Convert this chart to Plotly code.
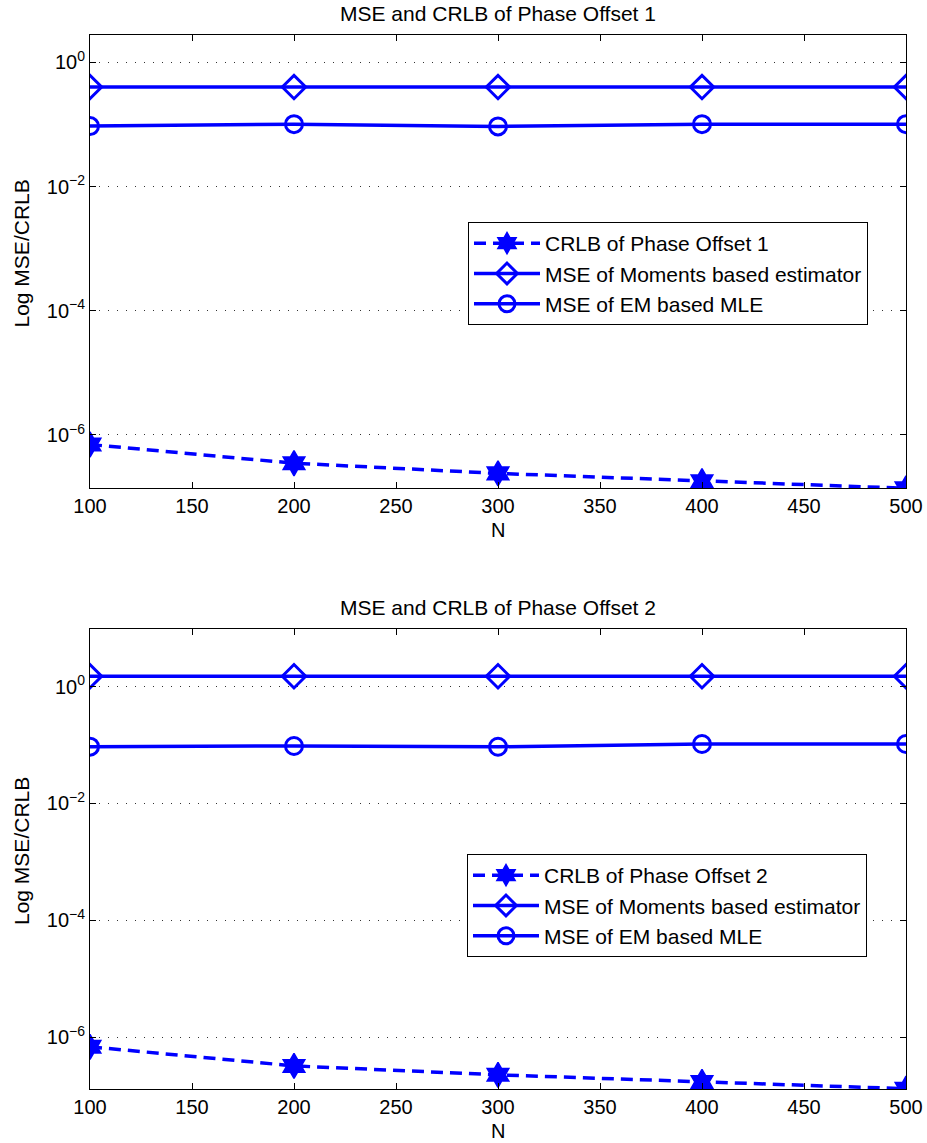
import plotly.graph_objects as go

N = [100, 200, 300, 400, 500]

# Panel 1 (Phase Offset 1)
crlb1 = [7.0e-7, 3.5e-7, 2.4e-7, 1.8e-7, 1.38e-7]
mom1 = [0.40, 0.40, 0.40, 0.40, 0.40]
em1 = [0.094, 0.101, 0.093, 0.101, 0.101]

# Panel 2 (Phase Offset 2)
crlb2 = [6.8e-7, 3.2e-7, 2.25e-7, 1.7e-7, 1.3e-7]
mom2 = [1.5, 1.5, 1.5, 1.5, 1.5]
em2 = [0.0935, 0.096, 0.093, 0.104, 0.104]

xticks = [100, 150, 200, 250, 300, 350, 400, 450, 500]
ytick_vals = [1e-6, 1e-4, 1e-2, 1e0]
ytick_text = ["10<sup>\u22126</sup>", "10<sup>\u22124</sup>", "10<sup>\u22122</sup>", "10<sup>0</sup>"]

titles = ["MSE and CRLB of Phase Offset 1", "MSE and CRLB of Phase Offset 2"]
names_crlb = ["CRLB of Phase Offset 1", "CRLB of Phase Offset 2"]
name_mom = "MSE of Moments based estimator"
name_em = "MSE of EM based MLE"

W, H = 927, 1143
FONT = "Liberation Sans, Arial, Helvetica, sans-serif"
BLUE = "#0000ff"

def px_y(y):
    return 1 - y / H

panels = [
    dict(top=35, bottom=488, yr=[-6.855, 0.44], crlb=crlb1, mom=mom1, em=em1,
         leg=dict(x=868, y=222), title_y=14, xlab_y=530),
    dict(top=629, bottom=1089, yr=[-6.89, 0.985], crlb=crlb2, mom=mom2, em=em2,
         leg=dict(x=867, y=854), title_y=607, xlab_y=1131),
]

fig = go.Figure()
x0, x1 = 90 / W, 906 / W
annotations = []
for i, p in enumerate(panels):
    xa = "x" if i == 0 else "x2"
    ya = "y" if i == 0 else "y2"
    leg = "legend" if i == 0 else "legend2"
    fig.add_trace(go.Scatter(x=N, y=p["crlb"], name=names_crlb[i], xaxis=xa, yaxis=ya,
                             mode="lines+markers", legend=leg,
                             line=dict(color=BLUE, width=3.5, dash="12px,7px"),
                             marker=dict(symbol="hexagram", size=19, color=BLUE,
                                         line=dict(color=BLUE, width=1.5))))
    fig.add_trace(go.Scatter(x=N, y=p["mom"], name=name_mom, xaxis=xa, yaxis=ya,
                             mode="lines+markers", legend=leg,
                             line=dict(color=BLUE, width=3.5),
                             marker=dict(symbol="diamond-open", size=18, color=BLUE,
                                         line=dict(color=BLUE, width=3))))
    fig.add_trace(go.Scatter(x=N, y=p["em"], name=name_em, xaxis=xa, yaxis=ya,
                             mode="lines+markers", legend=leg,
                             line=dict(color=BLUE, width=3.5),
                             marker=dict(symbol="circle-open", size=17, color=BLUE,
                                         line=dict(color=BLUE, width=3))))
    dom_y = [px_y(p["bottom"]), px_y(p["top"])]
    xkey = "xaxis" if i == 0 else "xaxis2"
    ykey = "yaxis" if i == 0 else "yaxis2"
    fig.update_layout({
        xkey: dict(domain=[x0, x1], range=[100, 500], anchor=ya, tickvals=xticks,
                   ticks="inside", ticklen=6, tickcolor="black", mirror="ticks",
                   showline=True, linecolor="black", linewidth=1, showgrid=False,
                   zeroline=False, automargin=False,
                   tickfont=dict(size=20, color="black", family=FONT)),
        ykey: dict(domain=dom_y, type="log", range=p["yr"], anchor=xa,
                   tickvals=ytick_vals, ticktext=ytick_text,
                   ticks="inside", ticklen=6, tickcolor="black", mirror="ticks",
                   showline=True, linecolor="black", linewidth=1,
                   showgrid=True, gridcolor="#333333", griddash="1px,8px", gridwidth=1,
                   zeroline=False, automargin=False,
                   tickfont=dict(size=20, color="black", family=FONT)),
        leg: dict(x=p["leg"]["x"] / W, y=px_y(p["leg"]["y"]), xanchor="right", yanchor="top",
                  bgcolor="white", bordercolor="black", borderwidth=1,
                  font=dict(size=21, color="black", family=FONT), itemwidth=66,
                  tracegroupgap=0),
    })
    annotations.append(dict(text=titles[i], x=(x0 + x1) / 2, y=px_y(p["title_y"]),
                            xref="paper", yref="paper", showarrow=False,
                            xanchor="center", yanchor="middle",
                            font=dict(size=21, color="black", family=FONT)))
    annotations.append(dict(text="N", x=(x0 + x1) / 2, y=px_y(p["xlab_y"]),
                            xref="paper", yref="paper", showarrow=False,
                            xanchor="center", yanchor="middle",
                            font=dict(size=20, color="black", family=FONT)))
    annotations.append(dict(text="Log MSE/CRLB", x=21 / W,
                            y=px_y((p["top"] + p["bottom"]) / 2 - 8),
                            xref="paper", yref="paper", showarrow=False, textangle=-90,
                            xanchor="center", yanchor="middle",
                            font=dict(size=21, color="black", family=FONT)))

fig.update_layout(width=W, height=H, autosize=False,
                  margin=dict(l=0, r=0, t=0, b=0, autoexpand=False),
                  paper_bgcolor="white", plot_bgcolor="white",
                  showlegend=True, annotations=annotations)

fig.write_html("out.html")
